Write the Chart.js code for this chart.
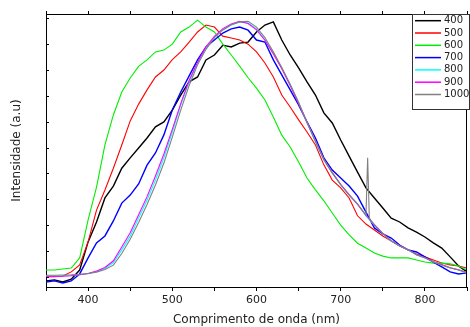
<!DOCTYPE html>
<html>
<head>
<meta charset="utf-8">
<script src="https://cdn.jsdelivr.net/npm/chart.js@4"></script>
<style>
  body { margin: 0; background: #fff; }
  canvas { display: block; }
</style>
</head>
<body>
<canvas id="chart" width="470" height="327"></canvas>
<script>
// wavelength grid (nm), every 10 nm
const wavelengths = [350, 360, 370, 380, 390, 400, 410, 420, 430, 440, 450, 460, 470, 480, 490, 500,
  510, 520, 530, 540, 550, 560, 570, 580, 590, 600, 610, 620, 630, 640, 650, 660, 670, 680, 690, 700,
  710, 720, 730, 740, 750, 760, 770, 780, 790, 800, 810, 820, 830, 840, 850];

const labels = ["400", "500", "600", "700", "800", "900", "1000"];
const colors = ["#000000", "#ff0000", "#00ee00", "#0000ff", "#00ffff", "#ff00ff", "#808080"];

// normalised intensity (0 - 100)
const s400 = [-1.6, -1.2, -2, -0.9, 2.6, 13.5, 21.2, 30.5, 35.1, 42, 46, 49.8, 53.7, 58, 59.9, 64.5,
  70.3, 75.4, 77.3, 83.9, 85.8, 89.6, 88.9, 90.4, 90.8, 94.7, 97.4, 98.6, 91.6, 85.8, 80.8, 75.4, 70.3,
  63.4, 59.5, 52.9, 46.7, 40.5, 34.4, 30.5, 26.6, 22.7, 21.2, 18.9, 17.3, 15.4, 13.1, 11.1, 7.7, 4.2, 1.9];
const s500 = [0, 0, 0.3, 1.9, 4.6, 13.5, 25.8, 33.6, 42, 51, 60.3, 66.8, 72.3, 77.3, 80, 84,
  87, 90.8, 94.7, 97.4, 96.6, 93.1, 92.4, 91.6, 90, 87, 82.7, 77.3, 70.3, 65.7, 60.7, 56, 51,
  43.3, 37.4, 34.4, 30.5, 23.6, 20.4, 18.1, 15.8, 13.8, 11.9, 10.4, 8.8, 7.7, 6.5, 5.3, 4.6, 4.2, 3.4];
const s600 = [2.6, 2.6, 3, 3.4, 7.3, 22, 34.7, 51, 62.6, 71.5, 76.9, 81.4, 83.9, 87, 87.7, 90,
  94.7, 96.6, 99.3, 96.6, 94.7, 90, 85.8, 81.5, 77, 73, 68.4, 61.8, 54.8, 50.2, 44.4, 38.2, 33.6,
  29.4, 24.7, 20, 16.2, 13, 11.1, 9.2, 8, 7.3, 7.3, 7.3, 6.5, 5.7, 5.3, 5.3, 5, 4.2, 2.6];
const s700 = [-2, -1.6, -2.4, -1.6, 1.1, 7.3, 13.1, 15.8, 21.6, 28.5, 31.6, 35.9, 43.2, 47.9, 54.9, 64.5,
  71.5, 77.7, 83.9, 88.9, 91.6, 94.3, 95.9, 96.6, 95.4, 91.6, 90.8, 83.9, 78.1, 72.3, 66.5, 59.9, 53.7,
  46, 41.3, 38.2, 35.1, 31.2, 25, 18.9, 16.6, 15, 12.3, 10.4, 9.6, 7.7, 5.7, 3.8, 1.9, 1.1, 1.5];
const s800 = [0.3, 0.3, 0.4, 0.5, 0.8, 1.2, 2, 3.2, 5.5, 10.4, 15.8, 22.7, 29.7, 37.4, 46, 56,
  66.5, 75.4, 82.7, 88.5, 92.8, 95.5, 97.4, 98.6, 98.2, 95.9, 91.6, 86.6, 80.8, 74.2, 67.3, 59.5, 52.1,
  45.1, 40.1, 35.5, 31.6, 28.2, 23.6, 20, 16.6, 13.8, 11.9, 10.4, 8.4, 7.3, 5.7, 4.6, 3.4, 2.6, 1.5];
const s900 = [0, 0.1, 0.2, 0.4, 0.8, 1.3, 2.2, 3.6, 6.2, 11.5, 17, 24, 31, 39, 47.5, 57,
  67, 76, 83, 89, 93, 96, 97.8, 98.8, 98, 95.5, 91.5, 86.2, 80.5, 74, 67, 59.8, 52.5,
  45.5, 40.3, 35.8, 31.8, 28, 23.8, 20.2, 16.8, 14, 12, 10.5, 8.6, 7.4, 5.8, 4.7, 3.5, 2.7, 1.6];
// 1000 has its own grid: one sharp spike near 732 nm
const nm1000 = [350, 360, 370, 380, 390, 400, 410, 420, 430, 440, 450, 460, 470, 480, 490, 500,
  510, 520, 530, 540, 550, 560, 570, 580, 590, 600, 610, 620, 630, 640, 650, 660, 670, 680, 690, 700,
  710, 720, 730, 732, 734, 740, 750, 760, 770, 780, 790, 800, 810, 820, 830, 840, 850];
const s1000 = [0.6, 0.6, 0.7, 0.8, 1, 1.3, 1.8, 2.8, 4.5, 9, 14.5, 21, 28, 35.5, 44, 54,
  64.5, 74, 82, 88, 92.5, 95.5, 97.5, 98.6, 98.8, 96.6, 92.5, 87, 81, 74.5, 67.5, 59.8, 52.5,
  45.4, 40.2, 35.6, 31.7, 28.1, 23.8, 46, 22.5, 20.1, 16.7, 13.9, 12, 10.5, 8.5, 7.4, 5.8, 4.6, 3.5, 2.6, 1.6];

const series = [s400, s500, s600, s700, s800, s900, s1000];
const xValues = [wavelengths, wavelengths, wavelengths, wavelengths, wavelengths, wavelengths, nm1000];

const yTicks = [0, 10, 20, 30, 40, 50, 60, 70, 80, 90, 100];

const FONT = "'DejaVu Sans', sans-serif";

// inside ticks on the left axis + legend box in the top right corner
const decorPlugin = {
  id: "decor",
  afterDraw(chart) {
    const ctx = chart.ctx;
    const area = chart.chartArea;
    const y = chart.scales.y;
    ctx.save();
    ctx.strokeStyle = "#000";
    ctx.lineWidth = 1;
    yTicks.forEach(v => {
      let py = Math.round(y.getPixelForValue(v)) + 0.5;
      ctx.beginPath();
      ctx.moveTo(area.left, py);
      ctx.lineTo(area.left + 3, py);
      ctx.stroke();
    });
    // right border
    ctx.beginPath();
    ctx.moveTo(area.right - 0.5, area.top);
    ctx.lineTo(area.right - 0.5, area.bottom);
    ctx.stroke();

    // legend
    let bx = 412.5, by = 14.5, bw = 57, bh = 95;
    ctx.fillStyle = "#fff";
    ctx.fillRect(bx, by, bw, bh);
    ctx.strokeStyle = "#333";
    ctx.strokeRect(bx, by, bw, bh);
    ctx.font = "10px " + FONT;
    ctx.textBaseline = "middle";
    labels.forEach((lab, i) => {
      let ly = 20.7 + i * 12.3;
      ctx.strokeStyle = colors[i];
      ctx.lineWidth = 1.5;
      ctx.beginPath();
      ctx.moveTo(415, ly);
      ctx.lineTo(441, ly);
      ctx.stroke();
      ctx.fillStyle = "#222";
      ctx.fillText(lab, 444, ly);
    });
    ctx.restore();
  }
};

const datasets = labels.map((lab, i) => ({
  label: lab,
  data: series[i].map((v, j) => ({ x: xValues[i][j], y: v })),
  borderColor: colors[i],
  borderWidth: (i === 0 || i === 3) ? 1.4 : 1.1,
  pointRadius: 0,
  tension: 0,
  fill: false,
  order: 6 - i
}));

new Chart(document.getElementById("chart"), {
  type: "line",
  data: { datasets: datasets },
  plugins: [decorPlugin],
  options: {
    responsive: false,
    animation: false,
    layout: { padding: { top: 0, right: 0, left: 0, bottom: 0 } },
    plugins: { legend: { display: false }, tooltip: { enabled: false } },
    scales: {
      x: {
        type: "linear",
        position: "bottom",
        min: 350,
        max: 850,
        afterFit: s => { s.height = 40; },
        border: { display: true, color: "#000", width: 1 },
        grid: { drawOnChartArea: false, drawTicks: true, tickLength: 4, color: "#000" },
        ticks: {
          stepSize: 50,
          padding: 3,
          color: "#222",
          font: { family: FONT, size: 11 },
          maxRotation: 0,
          callback: v => (v % 100 === 0 && v > 350 && v < 850) ? v : ""
        },
        title: {
          display: true,
          text: "Comprimento de onda (nm)",
          color: "#222",
          font: { family: FONT, size: 12 },
          padding: { top: 0, bottom: 0 }
        }
      },
      xTop: {
        type: "linear",
        position: "top",
        min: 350,
        max: 850,
        afterFit: s => { s.height = 14; },
        border: { display: true, color: "#000", width: 1 },
        grid: { drawOnChartArea: false, drawTicks: true, tickLength: 3, color: "#000" },
        ticks: { stepSize: 50, callback: () => "", padding: 0 }
      },
      y: {
        position: "left",
        min: -3.95,
        max: 101.66,
        afterFit: s => { s.width = 46; },
        border: { display: true, color: "#000", width: 1 },
        grid: { display: false },
        ticks: { display: false },
        title: {
          display: true,
          text: "Intensidade (a.u)",
          color: "#222",
          font: { family: FONT, size: 12 },
          padding: { top: 10, bottom: 0 }
        }
      }
    }
  }
});
</script>
</body>
</html>
